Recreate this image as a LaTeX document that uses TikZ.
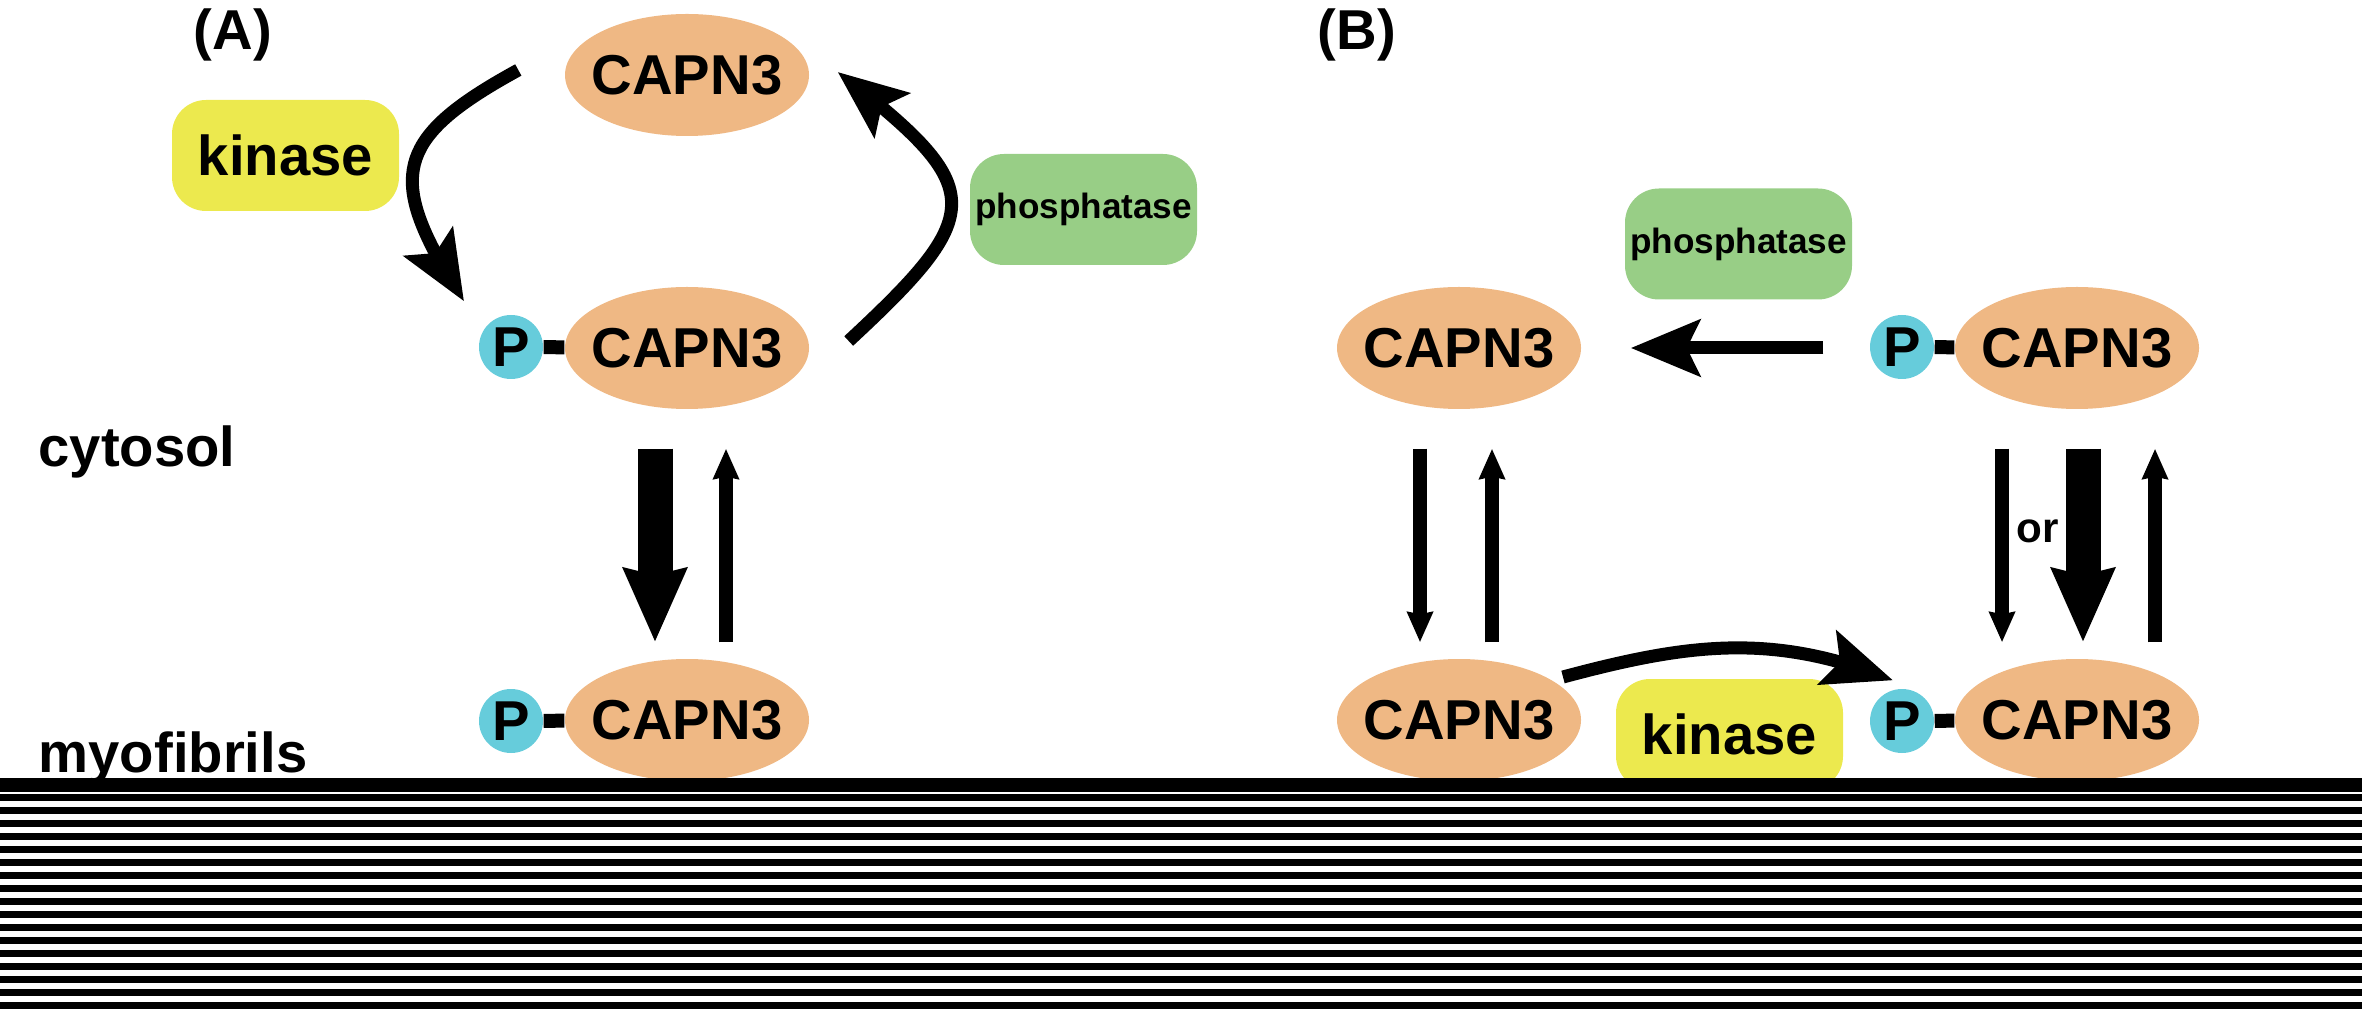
\documentclass[tikz,border=0pt]{standalone}
\usepackage{fontspec}
\setmainfont{Liberation Sans}
\usetikzlibrary{shapes.geometric,arrows.meta,bending}

\definecolor{capncol}{RGB}{239,184,132}
\definecolor{pcol}{RGB}{102,204,219}
\definecolor{kincol}{RGB}{236,233,78}
\definecolor{ptasecol}{RGB}{152,206,134}

\begin{document}
\begin{tikzpicture}[
	capn/.style={ellipse, fill=capncol, inner xsep=-0.4cm, minimum width=2.44cm, minimum height=1.22cm},
	pgroup/.style={circle, fill=pcol, minimum size=0.64cm},
	enzyme/.style={rectangle, rounded corners=0.34cm, minimum width=2.27cm, minimum height=1.11cm},
	bond/.style={line width=0.14cm},
	bigarrow/.style={line width=0.13cm, -{Stealth[length=0.69cm,width=0.56cm,inset=0.13cm]}},
	fatarrow/.style={line width=0.35cm, -{Stealth[length=0.73cm,width=0.61cm,inset=0.06cm]}},
	thinarrow/.style={line width=0.14cm, -{Stealth[length=0.30cm,width=0.25cm,inset=0.02cm]}}]
	\tikzstyle{every node}+=[inner sep=0pt, font=\bfseries\fontsize{16}{19}\selectfont]
	\useasboundingbox (0,0) rectangle (23.62,-10.11);
	\node[anchor=base] (labA) at (2.33,-0.50) {(A)};
	\node[anchor=base] (labB) at (13.57,-0.50) {(B)};
	\node[anchor=base west] (cyto) at (0.38,-4.67) {cytosol};
	\node[anchor=base west] (myo) at (0.38,-7.72) {myofibrils};
	\node[capn] (cA1) at (6.87,-0.75) {CAPN3};
	\node[capn] (cA2) at (6.87,-3.48) {CAPN3};
	\node[pgroup] (pA2) at (5.11,-3.47) {P};
	\draw[bond] (pA2) -- (cA2);
	\node[capn] (cA3) at (6.87,-7.20) {CAPN3};
	\node[pgroup] (pA3) at (5.11,-7.21) {P};
	\draw[bond] (pA3) -- (cA3);
	\node[enzyme, fill=kincol] (kinA) at (2.855,-1.555) {kinase};
	\node[enzyme, fill=ptasecol, font=\bfseries\fontsize{10}{12}\selectfont] (phosA) at (10.835,-2.095) {phosphatase};
	\draw[bigarrow] ([xshift=-0.46cm,yshift=0.05cm]cA1.west) .. controls +(-1.28,-0.70) and +(-0.78,1.22) .. ([xshift=-0.47cm,yshift=0.13cm]pA2.north);
	\draw[bigarrow] ([xshift=0.39cm,yshift=0.07cm]cA2.east) .. controls +(1.39,1.29) and +(1.50,-1.16) .. ([xshift=0.28cm,yshift=0.03cm]cA1.east);
	\draw[fatarrow] ([xshift=-0.32cm,yshift=-0.39cm]cA2.south) -- ([xshift=-0.32cm,yshift=0.16cm]cA3.north);
	\draw[thinarrow] ([xshift=0.39cm,yshift=0.16cm]cA3.north) -- ([xshift=0.39cm,yshift=-0.39cm]cA2.south);
	\node[capn] (cB1) at (14.59,-3.48) {CAPN3};
	\node[capn] (cB2) at (20.77,-3.48) {CAPN3};
	\node[pgroup] (pB2) at (19.02,-3.47) {P};
	\draw[bond] (pB2) -- (cB2);
	\node[capn] (cB3) at (14.59,-7.20) {CAPN3};
	\node[capn] (cB4) at (20.77,-7.20) {CAPN3};
	\node[pgroup] (pB4) at (19.02,-7.21) {P};
	\draw[bond] (pB4) -- (cB4);
	\node[enzyme, fill=ptasecol, font=\bfseries\fontsize{10}{12}\selectfont] (phosB) at (17.385,-2.44) {phosphatase};
	\node[enzyme, fill=kincol] (kinB) at (17.295,-7.345) {kinase};
	\draw[bigarrow] ([xshift=-0.46cm,yshift=-0.01cm]pB2.west) -- ([xshift=0.49cm]cB1.east);
	\draw[bigarrow] ([xshift=1.04cm,yshift=0.43cm]cB3.center) to[out=15,in=158] ([xshift=-0.09cm,yshift=0.08cm]pB4.north);
	\draw[thinarrow] ([xshift=-0.39cm,yshift=-0.39cm]cB1.south) -- ([xshift=-0.39cm,yshift=0.16cm]cB3.north);
	\draw[thinarrow] ([xshift=0.33cm,yshift=0.16cm]cB3.north) -- ([xshift=0.33cm,yshift=-0.39cm]cB1.south);
	\draw[thinarrow] ([xshift=-0.75cm,yshift=-0.39cm]cB2.south) -- ([xshift=-0.75cm,yshift=0.16cm]cB4.north);
	\draw[fatarrow] ([xshift=0.06cm,yshift=-0.39cm]cB2.south) -- ([xshift=0.06cm,yshift=0.16cm]cB4.north);
	\draw[thinarrow] ([xshift=0.78cm,yshift=0.16cm]cB4.north) -- ([xshift=0.78cm,yshift=-0.39cm]cB2.south);
	\node[anchor=base, font=\bfseries\fontsize{12}{14}\selectfont] (orlab) at (20.375,-5.43) {or};
	\fill [black] (0,-7.78) rectangle (23.62,-7.92);
	\fill [black] (0,-7.94) rectangle (23.62,-8.01);
	\fill [black] (0,-8.07) rectangle (23.62,-8.14);
	\fill [black] (0,-8.20) rectangle (23.62,-8.27);
	\fill [black] (0,-8.33) rectangle (23.62,-8.40);
	\fill [black] (0,-8.46) rectangle (23.62,-8.53);
	\fill [black] (0,-8.59) rectangle (23.62,-8.66);
	\fill [black] (0,-8.72) rectangle (23.62,-8.79);
	\fill [black] (0,-8.85) rectangle (23.62,-8.92);
	\fill [black] (0,-8.98) rectangle (23.62,-9.05);
	\fill [black] (0,-9.11) rectangle (23.62,-9.18);
	\fill [black] (0,-9.24) rectangle (23.62,-9.31);
	\fill [black] (0,-9.37) rectangle (23.62,-9.44);
	\fill [black] (0,-9.50) rectangle (23.62,-9.57);
	\fill [black] (0,-9.63) rectangle (23.62,-9.70);
	\fill [black] (0,-9.76) rectangle (23.62,-9.83);
	\fill [black] (0,-9.89) rectangle (23.62,-9.96);
	\fill [black] (0,-10.02) rectangle (23.62,-10.09);
\end{tikzpicture}
\end{document}
